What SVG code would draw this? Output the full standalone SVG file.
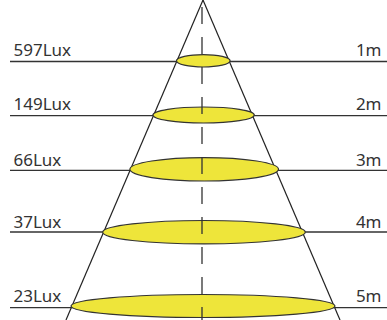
<svg xmlns="http://www.w3.org/2000/svg" width="387" height="320" viewBox="0 0 387 320">
  <style>
    .lvl { stroke: #333; stroke-width: 1.3; fill: none; }
    .cone { stroke: #222; stroke-width: 1.2; fill: none; }
    .axis { stroke: #333; stroke-width: 1.3; stroke-dasharray: 17 13; fill: none; }
    .spot { fill: #eee53a; stroke: #333; stroke-width: 1.2; }
    .lbl { font-family: "Noto Sans", "Liberation Sans", sans-serif; font-size: 17px; fill: #333; }
    .r { text-anchor: end; }
  </style>
  <rect width="387" height="320" fill="#ffffff"/>
  <g id="connectors">
    <line class="lvl" x1="10" y1="61.5" x2="387" y2="61.5"/>
    <line class="lvl" x1="10" y1="115.7" x2="387" y2="115.7"/>
    <line class="lvl" x1="10" y1="170.3" x2="387" y2="170.3"/>
    <line class="lvl" x1="10" y1="232" x2="387" y2="232"/>
    <line class="lvl" x1="10" y1="307.7" x2="387" y2="307.7"/>
    <line class="cone" x1="203" y1="0" x2="66" y2="320"/>
    <line class="cone" x1="203" y1="0" x2="340" y2="320"/>
  </g>
  <g id="spot-1m"><ellipse class="spot" cx="203.3" cy="60.8" rx="26.8" ry="6.2"/></g>
  <g id="spot-2m"><ellipse class="spot" cx="203.6" cy="115" rx="50.7" ry="8"/></g>
  <g id="spot-3m"><ellipse class="spot" cx="204.2" cy="169.3" rx="74.3" ry="11.7"/></g>
  <g id="spot-4m"><ellipse class="spot" cx="204" cy="232.2" rx="101.3" ry="11.7"/></g>
  <g id="spot-5m"><ellipse class="spot" cx="203" cy="306" rx="132" ry="11.5"/></g>
  <g id="axis"><line class="axis" x1="202" y1="7" x2="202" y2="320"/></g>
  <g id="label-1m">
    <text class="lbl" x="13.5" y="55.7">597Lux</text>
    <text class="lbl r" x="381.5" y="55.7">1m</text>
  </g>
  <g id="label-2m">
    <text class="lbl" x="13.5" y="110">149Lux</text>
    <text class="lbl r" x="381.5" y="110">2m</text>
  </g>
  <g id="label-3m">
    <text class="lbl" x="13.5" y="165.5">66Lux</text>
    <text class="lbl r" x="381.5" y="165.5">3m</text>
  </g>
  <g id="label-4m">
    <text class="lbl" x="13.5" y="227.5">37Lux</text>
    <text class="lbl r" x="381.5" y="227.5">4m</text>
  </g>
  <g id="label-5m">
    <text class="lbl" x="13.5" y="301.5">23Lux</text>
    <text class="lbl r" x="381.5" y="301.5">5m</text>
  </g>
</svg>
